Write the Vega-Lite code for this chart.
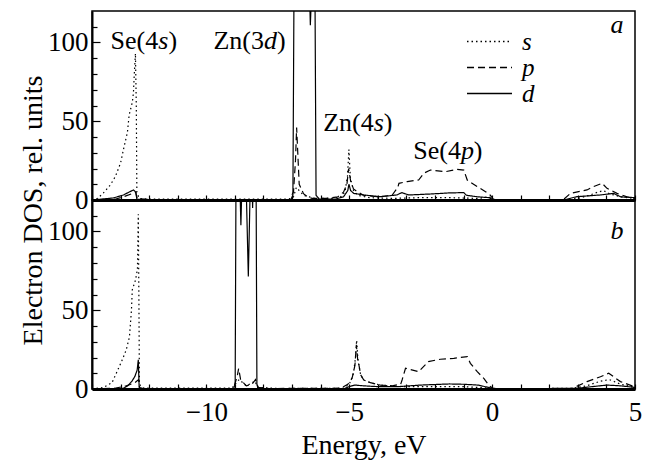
{
  "$schema": "https://vega.github.io/schema/vega-lite/v6.json",
  "padding": {"left": 18, "top": 10, "right": 16, "bottom": 0},
  "spacing": 0,
  "bounds": "flush",
  "config": {
    "font": "Liberation Serif",
    "view": {"stroke": "black", "strokeWidth": 1.5},
    "text": {"font": "Liberation Serif"},
    "legend": {"labelFont": "Liberation Serif"},
    "axis": {"grid": false, "domainColor": "black", "tickColor": "black", "labelColor": "black", "titleColor": "black", "labelFont": "Liberation Serif", "titleFont": "Liberation Serif", "labelFontSize": 27, "titleFontSize": 28, "titleFontWeight": "normal", "tickWidth": 1.2, "labelOverlap": false, "labelFlush": false}
  },
  "datasets": {
    "a": [
      {"orb": "s", "E": -14, "v": 0}, {"orb": "s", "E": -13.8, "v": 1}, {"orb": "s", "E": -13.6, "v": 4.5}, {"orb": "s", "E": -13.36, "v": 9.5}, {"orb": "s", "E": -13.18, "v": 15}, {"orb": "s", "E": -13.0, "v": 23.5}, {"orb": "s", "E": -12.9, "v": 32}, {"orb": "s", "E": -12.76, "v": 43}, {"orb": "s", "E": -12.7, "v": 54}, {"orb": "s", "E": -12.59, "v": 62}, {"orb": "s", "E": -12.55, "v": 68}, {"orb": "s", "E": -12.52, "v": 80}, {"orb": "s", "E": -12.48, "v": 93}, {"orb": "s", "E": -12.45, "v": 60}, {"orb": "s", "E": -12.43, "v": 5}, {"orb": "s", "E": -12.35, "v": 1}, {"orb": "s", "E": -12, "v": 0.5}, {"orb": "s", "E": -11, "v": 0.5}, {"orb": "s", "E": -7.1, "v": 0.5}, {"orb": "s", "E": -6.95, "v": 2}, {"orb": "s", "E": -6.85, "v": 8}, {"orb": "s", "E": -6.6, "v": 3}, {"orb": "s", "E": -6.4, "v": 2}, {"orb": "s", "E": -6.2, "v": 1}, {"orb": "s", "E": -5.6, "v": 1}, {"orb": "s", "E": -5.3, "v": 2}, {"orb": "s", "E": -5.15, "v": 5}, {"orb": "s", "E": -5.06, "v": 15}, {"orb": "s", "E": -5.01, "v": 32}, {"orb": "s", "E": -4.96, "v": 14}, {"orb": "s", "E": -4.85, "v": 6}, {"orb": "s", "E": -4.7, "v": 3}, {"orb": "s", "E": -4.3, "v": 1.5}, {"orb": "s", "E": -3.5, "v": 1}, {"orb": "s", "E": -2.5, "v": 1.5}, {"orb": "s", "E": -1.5, "v": 1.5}, {"orb": "s", "E": -0.5, "v": 1}, {"orb": "s", "E": -0.1, "v": 2}, {"orb": "s", "E": 0, "v": 0.5}, {"orb": "s", "E": 0.5, "v": 0}, {"orb": "s", "E": 2.5, "v": 0}, {"orb": "s", "E": 3.0, "v": 1}, {"orb": "s", "E": 3.4, "v": 3}, {"orb": "s", "E": 3.7, "v": 5}, {"orb": "s", "E": 3.9, "v": 6}, {"orb": "s", "E": 4.1, "v": 4}, {"orb": "s", "E": 4.5, "v": 2}, {"orb": "s", "E": 5, "v": 1},
      {"orb": "p", "E": -14, "v": 0}, {"orb": "p", "E": -13.2, "v": 0.5}, {"orb": "p", "E": -12.9, "v": 2}, {"orb": "p", "E": -12.6, "v": 4}, {"orb": "p", "E": -12.47, "v": 5}, {"orb": "p", "E": -12.42, "v": 1}, {"orb": "p", "E": -12, "v": 0.3}, {"orb": "p", "E": -7.1, "v": 0.3}, {"orb": "p", "E": -6.95, "v": 5}, {"orb": "p", "E": -6.88, "v": 25}, {"orb": "p", "E": -6.84, "v": 46}, {"orb": "p", "E": -6.8, "v": 30}, {"orb": "p", "E": -6.75, "v": 10}, {"orb": "p", "E": -6.6, "v": 4}, {"orb": "p", "E": -6.45, "v": 2}, {"orb": "p", "E": -6.3, "v": 1}, {"orb": "p", "E": -5.8, "v": 1}, {"orb": "p", "E": -5.4, "v": 2}, {"orb": "p", "E": -5.2, "v": 5}, {"orb": "p", "E": -5.08, "v": 10}, {"orb": "p", "E": -5.02, "v": 20}, {"orb": "p", "E": -4.95, "v": 12}, {"orb": "p", "E": -4.85, "v": 7}, {"orb": "p", "E": -4.72, "v": 5.3}, {"orb": "p", "E": -4.5, "v": 3}, {"orb": "p", "E": -4.0, "v": 2}, {"orb": "p", "E": -3.5, "v": 3}, {"orb": "p", "E": -3.3, "v": 8}, {"orb": "p", "E": -3.26, "v": 10.6}, {"orb": "p", "E": -2.97, "v": 11.7}, {"orb": "p", "E": -2.57, "v": 12.7}, {"orb": "p", "E": -2.39, "v": 17}, {"orb": "p", "E": -2.16, "v": 19}, {"orb": "p", "E": -1.63, "v": 18}, {"orb": "p", "E": -1.23, "v": 19.5}, {"orb": "p", "E": -0.99, "v": 19}, {"orb": "p", "E": -0.87, "v": 12.7}, {"orb": "p", "E": -0.52, "v": 8.5}, {"orb": "p", "E": -0.23, "v": 5.3}, {"orb": "p", "E": -0.06, "v": 3}, {"orb": "p", "E": 0.05, "v": 0.3}, {"orb": "p", "E": 2.5, "v": 0.3}, {"orb": "p", "E": 2.74, "v": 4.2}, {"orb": "p", "E": 3.32, "v": 6.4}, {"orb": "p", "E": 3.55, "v": 8.5}, {"orb": "p", "E": 3.85, "v": 10.6}, {"orb": "p", "E": 4.02, "v": 7.4}, {"orb": "p", "E": 4.37, "v": 4.2}, {"orb": "p", "E": 4.72, "v": 2}, {"orb": "p", "E": 5, "v": 1},
      {"orb": "d", "E": -14, "v": 0}, {"orb": "d", "E": -13.25, "v": 1.3}, {"orb": "d", "E": -12.9, "v": 3.2}, {"orb": "d", "E": -12.55, "v": 6.4}, {"orb": "d", "E": -12.47, "v": 5}, {"orb": "d", "E": -12.43, "v": 0.5}, {"orb": "d", "E": -12, "v": 0}, {"orb": "d", "E": -7.05, "v": 0}, {"orb": "d", "E": -6.97, "v": 3}, {"orb": "d", "E": -6.93, "v": 140}, {"orb": "d", "E": -6.4, "v": 140}, {"orb": "d", "E": -6.36, "v": 111}, {"orb": "d", "E": -6.3, "v": 140}, {"orb": "d", "E": -6.2, "v": 140}, {"orb": "d", "E": -6.16, "v": 3}, {"orb": "d", "E": -6.05, "v": 0.5}, {"orb": "d", "E": -5.5, "v": 0.5}, {"orb": "d", "E": -5.2, "v": 2}, {"orb": "d", "E": -5.05, "v": 6}, {"orb": "d", "E": -5.01, "v": 10}, {"orb": "d", "E": -4.95, "v": 6}, {"orb": "d", "E": -4.84, "v": 4.2}, {"orb": "d", "E": -4.49, "v": 3.2}, {"orb": "d", "E": -3.91, "v": 2.1}, {"orb": "d", "E": -3.33, "v": 3.2}, {"orb": "d", "E": -3.16, "v": 4.7}, {"orb": "d", "E": -2.92, "v": 3.2}, {"orb": "d", "E": -2.16, "v": 3.8}, {"orb": "d", "E": -1.5, "v": 4.5}, {"orb": "d", "E": -0.99, "v": 4.7}, {"orb": "d", "E": -0.9, "v": 3}, {"orb": "d", "E": -0.5, "v": 2}, {"orb": "d", "E": -0.1, "v": 1.5}, {"orb": "d", "E": 0.05, "v": 0}, {"orb": "d", "E": 2.5, "v": 0}, {"orb": "d", "E": 2.96, "v": 2.1}, {"orb": "d", "E": 3.79, "v": 3.2}, {"orb": "d", "E": 4.25, "v": 4.2}, {"orb": "d", "E": 4.5, "v": 2}, {"orb": "d", "E": 5, "v": 1.5}
    ],
    "b": [
      {"orb": "s", "E": -14, "v": 0}, {"orb": "s", "E": -13.6, "v": 1}, {"orb": "s", "E": -13.3, "v": 4}, {"orb": "s", "E": -13.1, "v": 12}, {"orb": "s", "E": -12.94, "v": 18.5}, {"orb": "s", "E": -12.8, "v": 25}, {"orb": "s", "E": -12.69, "v": 33}, {"orb": "s", "E": -12.62, "v": 50}, {"orb": "s", "E": -12.59, "v": 63}, {"orb": "s", "E": -12.48, "v": 69}, {"orb": "s", "E": -12.41, "v": 76}, {"orb": "s", "E": -12.38, "v": 111}, {"orb": "s", "E": -12.36, "v": 60}, {"orb": "s", "E": -12.34, "v": 3}, {"orb": "s", "E": -12.2, "v": 0.5}, {"orb": "s", "E": -9.1, "v": 0.5}, {"orb": "s", "E": -8.95, "v": 4}, {"orb": "s", "E": -8.85, "v": 6}, {"orb": "s", "E": -8.6, "v": 2}, {"orb": "s", "E": -8.3, "v": 5}, {"orb": "s", "E": -8.2, "v": 1}, {"orb": "s", "E": -7.5, "v": 0.3}, {"orb": "s", "E": -5.2, "v": 0.5}, {"orb": "s", "E": -5.0, "v": 3}, {"orb": "s", "E": -4.95, "v": 5}, {"orb": "s", "E": -4.85, "v": 10}, {"orb": "s", "E": -4.78, "v": 20}, {"orb": "s", "E": -4.74, "v": 31}, {"orb": "s", "E": -4.7, "v": 20}, {"orb": "s", "E": -4.67, "v": 16}, {"orb": "s", "E": -4.6, "v": 9}, {"orb": "s", "E": -4.49, "v": 5.7}, {"orb": "s", "E": -4.26, "v": 4}, {"orb": "s", "E": -3.91, "v": 2.5}, {"orb": "s", "E": -3.56, "v": 1.9}, {"orb": "s", "E": -3.25, "v": 1.5}, {"orb": "s", "E": -2, "v": 1.5}, {"orb": "s", "E": -1, "v": 1.5}, {"orb": "s", "E": 0, "v": 0.5}, {"orb": "s", "E": 0.5, "v": 0}, {"orb": "s", "E": 2.8, "v": 0.5}, {"orb": "s", "E": 3.3, "v": 2}, {"orb": "s", "E": 3.8, "v": 5}, {"orb": "s", "E": 4.1, "v": 6}, {"orb": "s", "E": 4.5, "v": 3}, {"orb": "s", "E": 5, "v": 1},
      {"orb": "p", "E": -14, "v": 0}, {"orb": "p", "E": -13.2, "v": 0.5}, {"orb": "p", "E": -12.8, "v": 2}, {"orb": "p", "E": -12.5, "v": 4}, {"orb": "p", "E": -12.37, "v": 6}, {"orb": "p", "E": -12.33, "v": 0.5}, {"orb": "p", "E": -12, "v": 0.3}, {"orb": "p", "E": -9.05, "v": 0.3}, {"orb": "p", "E": -8.92, "v": 8}, {"orb": "p", "E": -8.87, "v": 13}, {"orb": "p", "E": -8.8, "v": 6}, {"orb": "p", "E": -8.6, "v": 2}, {"orb": "p", "E": -8.4, "v": 3}, {"orb": "p", "E": -8.28, "v": 6}, {"orb": "p", "E": -8.2, "v": 1}, {"orb": "p", "E": -7.8, "v": 0.3}, {"orb": "p", "E": -5.3, "v": 0.5}, {"orb": "p", "E": -5.05, "v": 3}, {"orb": "p", "E": -4.9, "v": 6.8}, {"orb": "p", "E": -4.8, "v": 15}, {"orb": "p", "E": -4.75, "v": 28}, {"orb": "p", "E": -4.7, "v": 18}, {"orb": "p", "E": -4.67, "v": 16.3}, {"orb": "p", "E": -4.6, "v": 9}, {"orb": "p", "E": -4.49, "v": 5.7}, {"orb": "p", "E": -4.26, "v": 4}, {"orb": "p", "E": -3.91, "v": 2.5}, {"orb": "p", "E": -3.5, "v": 2}, {"orb": "p", "E": -3.2, "v": 3}, {"orb": "p", "E": -3.15, "v": 5.7}, {"orb": "p", "E": -3.03, "v": 13.2}, {"orb": "p", "E": -2.57, "v": 11}, {"orb": "p", "E": -2.23, "v": 17.4}, {"orb": "p", "E": -1.81, "v": 18.9}, {"orb": "p", "E": -1.34, "v": 19.5}, {"orb": "p", "E": -0.87, "v": 20.6}, {"orb": "p", "E": -0.76, "v": 16.3}, {"orb": "p", "E": -0.52, "v": 11}, {"orb": "p", "E": -0.29, "v": 6.8}, {"orb": "p", "E": -0.1, "v": 2}, {"orb": "p", "E": 0.05, "v": 0.3}, {"orb": "p", "E": 2.8, "v": 0.3}, {"orb": "p", "E": 3.32, "v": 4.7}, {"orb": "p", "E": 3.79, "v": 7.8}, {"orb": "p", "E": 4.08, "v": 10}, {"orb": "p", "E": 4.25, "v": 7.8}, {"orb": "p", "E": 4.49, "v": 4.7}, {"orb": "p", "E": 4.9, "v": 2}, {"orb": "p", "E": 5, "v": 1.5},
      {"orb": "d", "E": -14, "v": 0}, {"orb": "d", "E": -13.2, "v": 0.3}, {"orb": "d", "E": -12.9, "v": 0.5}, {"orb": "d", "E": -12.75, "v": 2}, {"orb": "d", "E": -12.6, "v": 5}, {"orb": "d", "E": -12.5, "v": 8}, {"orb": "d", "E": -12.42, "v": 12}, {"orb": "d", "E": -12.38, "v": 18.5}, {"orb": "d", "E": -12.35, "v": 1}, {"orb": "d", "E": -12.2, "v": 0}, {"orb": "d", "E": -9.05, "v": 0}, {"orb": "d", "E": -8.99, "v": 3}, {"orb": "d", "E": -8.96, "v": 140}, {"orb": "d", "E": -8.84, "v": 140}, {"orb": "d", "E": -8.79, "v": 104}, {"orb": "d", "E": -8.74, "v": 140}, {"orb": "d", "E": -8.62, "v": 140}, {"orb": "d", "E": -8.53, "v": 71.5}, {"orb": "d", "E": -8.45, "v": 140}, {"orb": "d", "E": -8.41, "v": 140}, {"orb": "d", "E": -8.38, "v": 115}, {"orb": "d", "E": -8.35, "v": 140}, {"orb": "d", "E": -8.26, "v": 140}, {"orb": "d", "E": -8.23, "v": 3}, {"orb": "d", "E": -8.15, "v": 0}, {"orb": "d", "E": -5.2, "v": 0}, {"orb": "d", "E": -5.0, "v": 1.5}, {"orb": "d", "E": -4.8, "v": 2.5}, {"orb": "d", "E": -4.5, "v": 2}, {"orb": "d", "E": -4, "v": 1.5}, {"orb": "d", "E": -3.3, "v": 1.5}, {"orb": "d", "E": -2.5, "v": 2.5}, {"orb": "d", "E": -1.5, "v": 3.2}, {"orb": "d", "E": -1, "v": 3}, {"orb": "d", "E": -0.5, "v": 2.5}, {"orb": "d", "E": 0, "v": 0.5}, {"orb": "d", "E": 0.2, "v": 0}, {"orb": "d", "E": 3.0, "v": 0.5}, {"orb": "d", "E": 3.5, "v": 1.5}, {"orb": "d", "E": 4.02, "v": 2.5}, {"orb": "d", "E": 4.5, "v": 2}, {"orb": "d", "E": 5, "v": 1}
    ],
    "romanA": [
      {"t": "Se(4", "E": -13.35, "v": 96}, {"t": ")", "E": -11.32, "v": 96},
      {"t": "Zn(3", "E": -9.75, "v": 96}, {"t": ")", "E": -7.53, "v": 96},
      {"t": "Zn(4", "E": -5.91, "v": 44}, {"t": ")", "E": -3.79, "v": 44},
      {"t": "Se(4", "E": -2.76, "v": 26}, {"t": ")", "E": -0.64, "v": 26}
    ],
    "italA": [
      {"t": "s", "E": -11.68, "v": 96}, {"t": "d", "E": -7.98, "v": 96},
      {"t": "s", "E": -4.14, "v": 44}, {"t": "p", "E": -1.09, "v": 26},
      {"t": "a", "E": 4.14, "v": 106}
    ],
    "italB": [
      {"t": "b", "E": 4.14, "v": 95}
    ]
  },
  "resolve": {"legend": {"strokeDash": "independent"}},
  "vconcat": [
    {
      "width": 543, "height": 189,
      "encoding": {
        "x": {"field": "E", "type": "quantitative", "scale": {"domain": [-14, 5], "nice": false, "zero": false},
              "axis": {"values": [-14,-13,-12,-11,-10,-9,-8,-7,-6,-5,-4,-3,-2,-1,0,1,2,3,4,5], "labels": false, "tickSize": -5, "title": null, "domainWidth": 3, "labelOverlap": false}},
        "y": {"field": "v", "type": "quantitative", "scale": {"domain": [0, 120], "nice": false},
              "axis": {"values": [0,10,20,30,40,50,60,70,80,90,100,110], "labelExpr": "datum.value % 50 === 0 ? datum.label : ''",
                       "tickSize": {"condition": {"test": "datum.value % 50 === 0", "value": -8}, "value": -5},
                       "labelPadding": 12, "domainWidth": 2, "labelOverlap": false,
                       "title": "Electron DOS, rel. units", "titleX": -59, "titleY": 199, "titleAngle": -90, "titleAlign": "center", "titleBaseline": "middle"}}
      },
      "layer": [
        {
          "data": {"name": "a"},
          "mark": {"type": "line", "clip": true, "color": "black", "strokeWidth": 1.2},
          "encoding": {
            "strokeDash": {"field": "orb", "type": "nominal", "scale": {"domain": ["s", "p", "d"], "range": [[1.5, 3], [7, 4], [1, 0]]},
                           "legend": {"orient": "none", "legendX": 385, "legendY": 18, "title": null, "symbolType": "M-2,0L2,0", "symbolSize": 506,
                                      "symbolStrokeWidth": 1.5, "symbolStrokeColor": "black", "symbolFillColor": "transparent", "labelFontSize": 25, "labelFontStyle": "italic",
                                      "labelOffset": 20, "rowPadding": 0, "padding": 0, "labelColor": "black", "labelFont": "Liberation Serif"}}
          }
        },
        {
          "data": {"name": "romanA"},
          "mark": {"type": "text", "align": "left", "baseline": "alphabetic", "fontSize": 26, "color": "black", "font": "Liberation Serif"},
          "encoding": {"text": {"field": "t"}}
        },
        {
          "data": {"name": "italA"},
          "mark": {"type": "text", "align": "left", "baseline": "alphabetic", "fontSize": 26, "fontStyle": "italic", "color": "black", "font": "Liberation Serif"},
          "encoding": {"text": {"field": "t"}}
        }
      ]
    },
    {
      "width": 543, "height": 189,
      "encoding": {
        "x": {"field": "E", "type": "quantitative", "scale": {"domain": [-14, 5], "nice": false, "zero": false},
              "axis": {"values": [-14,-13,-12,-11,-10,-9,-8,-7,-6,-5,-4,-3,-2,-1,0,1,2,3,4,5], "labelExpr": "datum.value % 5 === 0 ? datum.label : ''",
                       "tickSize": -5, "labelPadding": 15, "domainWidth": 3, "labelOverlap": false, "title": "Energy, eV", "titlePadding": 6}},
        "y": {"field": "v", "type": "quantitative", "scale": {"domain": [0, 120], "nice": false},
              "axis": {"values": [0,10,20,30,40,50,60,70,80,90,100,110], "labelExpr": "datum.value % 50 === 0 ? datum.label : ''",
                       "tickSize": {"condition": {"test": "datum.value % 50 === 0", "value": -8}, "value": -5},
                       "labelPadding": 12, "domainWidth": 2, "labelOverlap": false, "title": null}}
      },
      "layer": [
        {
          "data": {"name": "b"},
          "mark": {"type": "line", "clip": true, "color": "black", "strokeWidth": 1.2},
          "encoding": {
            "strokeDash": {"field": "orb", "type": "nominal", "scale": {"domain": ["s", "p", "d"], "range": [[1.5, 3], [7, 4], [1, 0]]}, "legend": null}
          }
        },
        {
          "data": {"name": "italB"},
          "mark": {"type": "text", "align": "left", "baseline": "alphabetic", "fontSize": 26, "fontStyle": "italic", "color": "black", "font": "Liberation Serif"},
          "encoding": {"text": {"field": "t"}}
        }
      ]
    }
  ]
}
